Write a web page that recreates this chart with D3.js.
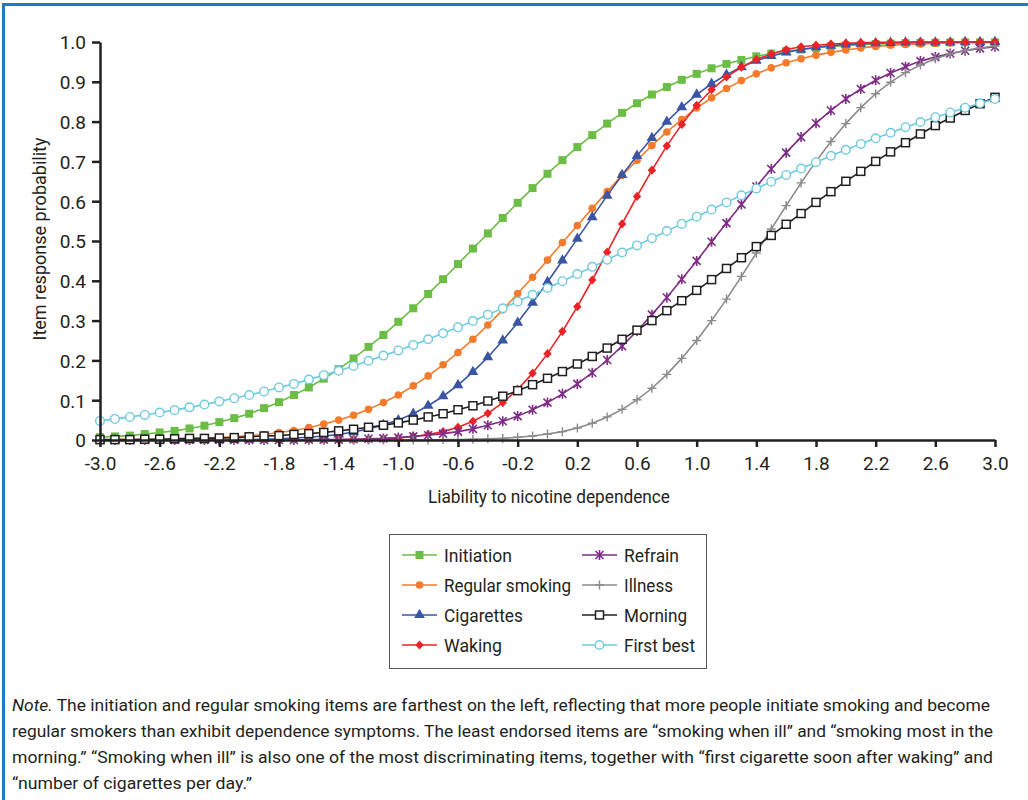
<!DOCTYPE html>
<html><head><meta charset="utf-8">
<script src="https://cdn.jsdelivr.net/npm/d3@7"></script>
<style>
body{margin:0;background:#fff;}
svg text{font-family:Roboto,"Liberation Sans",sans-serif;fill:#231F20;}
</style></head><body>
<svg id="c" width="1028" height="800"></svg>
<script>
// ---- data ----
const thetas=[-3.0,-2.9,-2.8,-2.7,-2.6,-2.5,-2.4,-2.3,-2.2,-2.1,
-2.0,-1.9,-1.8,-1.7,-1.6,-1.5,-1.4,-1.3,-1.2,-1.1,
-1.0,-0.9,-0.8,-0.7,-0.6,-0.5,-0.4,-0.3,-0.2,-0.1,
0.0,0.1,0.2,0.3,0.4,0.5,0.6,0.7,0.8,0.9,
1.0,1.1,1.2,1.3,1.4,1.5,1.6,1.7,1.8,1.9,
2.0,2.1,2.2,2.3,2.4,2.5,2.6,2.7,2.8,2.9,3.0];

const initiation=[0.007,0.009,0.011,0.015,0.019,0.023,0.029,0.036,0.045,0.055,
0.066,0.080,0.095,0.113,0.132,0.154,0.178,0.205,0.234,0.264,
0.297,0.331,0.367,0.404,0.442,0.481,0.519,0.558,0.596,0.633,
0.669,0.703,0.736,0.766,0.795,0.822,0.846,0.868,0.887,0.905,
0.920,0.934,0.945,0.955,0.964,0.971,0.977,0.981,0.985,0.989,
0.991,0.993,0.995,0.996,0.997,0.998,0.998,0.999,0.999,0.999,0.999];

const regularSmoking=[0.000,0.001,0.001,0.001,0.002,0.002,0.003,0.004,0.006,0.008,
0.011,0.014,0.019,0.024,0.031,0.040,0.050,0.062,0.077,0.094,
0.113,0.136,0.161,0.189,0.220,0.253,0.289,0.327,0.368,0.409,
0.452,0.496,0.539,0.582,0.624,0.665,0.703,0.740,0.774,0.805,
0.834,0.860,0.883,0.903,0.920,0.935,0.948,0.958,0.967,0.974,
0.980,0.985,0.989,0.992,0.994,0.995,0.997,0.998,0.998,0.999,0.999];

const cigarettes=[0.000,0.000,0.000,0.000,0.000,0.000,0.000,0.000,0.000,0.001,
0.001,0.002,0.003,0.005,0.007,0.010,0.014,0.020,0.028,0.038,
0.050,0.066,0.086,0.110,0.138,0.171,0.208,0.250,0.295,0.345,
0.397,0.451,0.506,0.560,0.614,0.666,0.714,0.759,0.800,0.836,
0.868,0.895,0.918,0.937,0.953,0.965,0.974,0.981,0.987,0.991,
0.994,0.996,0.997,0.998,0.999,0.999,0.999,0.999,1.000,1.000,1.000];

const waking=[0.000,0.000,0.000,0.000,0.000,0.000,0.000,0.000,0.000,0.000,
0.000,0.000,0.000,0.000,0.000,0.000,0.001,0.001,0.002,0.003,
0.005,0.009,0.014,0.021,0.032,0.047,0.067,0.094,0.127,0.168,
0.217,0.273,0.335,0.402,0.472,0.543,0.612,0.678,0.739,0.793,
0.841,0.880,0.912,0.937,0.956,0.970,0.981,0.988,0.992,0.995,
0.997,0.998,0.999,0.999,1.000,1.000,1.000,1.000,1.000,1.000,1.000];

const refrain=[0.000,0.000,0.000,0.000,0.000,0.000,0.000,0.000,0.000,0.000,
0.000,0.000,0.000,0.000,0.001,0.001,0.001,0.002,0.003,0.004,
0.006,0.009,0.012,0.016,0.021,0.028,0.037,0.047,0.060,0.076,
0.094,0.116,0.141,0.169,0.201,0.236,0.274,0.315,0.358,0.404,
0.450,0.498,0.545,0.592,0.637,0.681,0.722,0.761,0.796,0.828,
0.857,0.882,0.904,0.922,0.938,0.952,0.962,0.971,0.978,0.984,0.988];

const illness=[0.000,0.000,0.000,0.000,0.000,0.000,0.000,0.000,0.000,0.000,
0.000,0.000,0.000,0.000,0.000,0.000,0.000,0.000,0.000,0.000,
0.000,0.000,0.000,0.001,0.001,0.002,0.003,0.004,0.007,0.010,
0.015,0.021,0.030,0.042,0.058,0.077,0.101,0.130,0.165,0.205,
0.250,0.300,0.354,0.411,0.470,0.530,0.589,0.646,0.700,0.750,
0.795,0.835,0.870,0.899,0.923,0.942,0.958,0.970,0.979,0.985,0.990];

const morning=[0.001,0.001,0.001,0.002,0.002,0.003,0.004,0.004,0.005,0.006,
0.008,0.010,0.011,0.014,0.016,0.019,0.023,0.027,0.032,0.037,
0.043,0.050,0.058,0.066,0.076,0.086,0.098,0.110,0.124,0.139,
0.155,0.172,0.191,0.210,0.231,0.253,0.276,0.300,0.325,0.350,
0.376,0.403,0.431,0.458,0.486,0.514,0.542,0.569,0.597,0.624,
0.650,0.675,0.700,0.724,0.747,0.769,0.790,0.809,0.828,0.845,0.861];

const firstBest=[0.048,0.053,0.058,0.063,0.069,0.075,0.082,0.089,0.097,0.105,
0.113,0.122,0.132,0.141,0.152,0.163,0.174,0.186,0.199,0.212,
0.225,0.239,0.253,0.268,0.283,0.299,0.315,0.331,0.348,0.365,
0.382,0.399,0.417,0.435,0.453,0.471,0.489,0.507,0.525,0.543,
0.561,0.579,0.597,0.615,0.632,0.649,0.666,0.682,0.698,0.714,
0.729,0.744,0.758,0.772,0.786,0.799,0.811,0.823,0.835,0.846,0.857];

const seriesNames=["Initiation","Regular smoking","Cigarettes","Waking","Refrain","Illness","Morning","First best"];
const seriesValues=[initiation,regularSmoking,cigarettes,waking,refrain,illness,morning,firstBest];
const xTickValues=[-3.0,-2.6,-2.2,-1.8,-1.4,-1.0,-0.6,-0.2,0.2,0.6,1.0,1.4,1.8,2.2,2.6,3.0];
const yTickValues=[0,0.1,0.2,0.3,0.4,0.5,0.6,0.7,0.8,0.9,1.0];
const xTitle="Liability to nicotine dependence";
const yTitle="Item response probability";
const noteLines=[
 [["Note.",true],[" The initiation and regular smoking items are farthest on the left, reflecting that more people initiate smoking and become",false]],
 [["regular smokers than exhibit dependence symptoms. The least endorsed items are \u201csmoking when ill\u201d and \u201csmoking most in the",false]],
 [["morning.\u201d \u201cSmoking when ill\u201d is also one of the most discriminating items, together with \u201cfirst cigarette soon after waking\u201d and",false]],
 [["\u201cnumber of cigarettes per day.\u201d",false]]
];

// ---- styles ----
const colors=["#6BBD45","#F47B2C","#3A55A4","#EC2227","#7E2C86","#8B8B8B","#231F20","#6ECBDF"];
const markers=["square","circle","triangle","diamond","asterisk","plus","opensquare","opencircle"];
const legendWidths=[68,127,79,58,55,49,63,71];

const svg=d3.select("#c");
// frame
svg.append("rect").attr("x",2).attr("y",3).attr("width",1026).attr("height",3).attr("fill","#1B7BC4");
svg.append("rect").attr("x",2).attr("y",3).attr("width",3).attr("height",797).attr("fill","#1B7BC4");

const x=d3.scaleLinear().domain([-3,3]).range([100,995]);
const y=d3.scaleLinear().domain([0,1]).range([440,42]);

function drawMarker(g,type,color,cx,cy){
  if(type==="square") g.append("rect").attr("x",cx-4).attr("y",cy-4).attr("width",8).attr("height",8).attr("fill",color);
  else if(type==="circle") g.append("circle").attr("cx",cx).attr("cy",cy).attr("r",3.8).attr("fill",color);
  else if(type==="triangle") g.append("path").attr("d",d3.symbol(d3.symbolTriangle,50)()).attr("transform",`translate(${cx},${cy})`).attr("fill",color);
  else if(type==="diamond") g.append("path").attr("d","M0,-4.6L4.2,0L0,4.6L-4.2,0Z").attr("transform",`translate(${cx},${cy})`).attr("fill",color);
  else if(type==="asterisk") g.append("path").attr("d","M-4,-4L4,4M-4,4L4,-4M0,-5L0,5").attr("transform",`translate(${cx},${cy})`).attr("stroke",color).attr("stroke-width",1.6).attr("fill","none");
  else if(type==="plus") g.append("path").attr("d","M-4.5,0L4.5,0M0,-4.5L0,4.5").attr("transform",`translate(${cx},${cy})`).attr("stroke",color).attr("stroke-width",1.4).attr("fill","none");
  else if(type==="opensquare") g.append("rect").attr("x",cx-4).attr("y",cy-4).attr("width",8).attr("height",8).attr("fill","#fff").attr("stroke",color).attr("stroke-width",1.5);
  else if(type==="opencircle") g.append("circle").attr("cx",cx).attr("cy",cy).attr("r",4.3).attr("fill","#fff").attr("stroke",color).attr("stroke-width",1.4);
}

// series
const line=d3.line().x((d,i)=>x(thetas[i])).y(d=>y(d));
seriesValues.forEach((vals,si)=>{
  const g=svg.append("g");
  g.append("path").datum(vals).attr("d",line).attr("fill","none").attr("stroke",colors[si]).attr("stroke-width",1.6);
  vals.forEach((v,i)=>drawMarker(g,markers[si],colors[si],x(thetas[i]),y(v)));
});

// axes
const yAxis=svg.append("g").attr("transform","translate(100,0)")
  .call(d3.axisLeft(y).tickValues(yTickValues).tickSize(8).tickSizeOuter(0).tickPadding(6).tickFormat(d=>d===0?"0":d.toFixed(1)));
const xAxis=svg.append("g").attr("transform","translate(0,440)")
  .call(d3.axisBottom(x).tickValues(xTickValues).tickSize(7).tickSizeOuter(0).tickPadding(6).tickFormat(d=>d.toFixed(1)));
[yAxis,xAxis].forEach(a=>{
  a.select(".domain").attr("stroke","#231F20").attr("stroke-width",2.5);
  a.selectAll(".tick line").attr("stroke","#231F20").attr("stroke-width",2.5);
  a.selectAll(".tick text").style("font-size","19px").style("font-family","Roboto,sans-serif").attr("fill","#333");
});
yAxis.selectAll(".tick text").attr("dy","0.36em");
xAxis.selectAll(".tick text").attr("dy","0.9em");

svg.append("text").attr("x",549).attr("y",503).attr("text-anchor","middle").style("font-size","18px").attr("fill","#333")
  .attr("textLength",242).attr("lengthAdjust","spacingAndGlyphs").text(xTitle);
svg.append("text").attr("transform","translate(46,239) rotate(-90)").attr("text-anchor","middle").style("font-size","18px").attr("fill","#333")
  .attr("textLength",203).attr("lengthAdjust","spacingAndGlyphs").text(yTitle);

// legend
const lg=svg.append("g");
lg.append("rect").attr("x",389.5).attr("y",534.5).attr("width",317).attr("height",134).attr("fill","#fff").attr("stroke","#555").attr("stroke-width",1);
seriesNames.forEach((n,i)=>{
  const col=Math.floor(i/4), row=i%4;
  const x0=col===0?402:582, cy=555+row*30;
  lg.append("line").attr("x1",x0).attr("x2",x0+35).attr("y1",cy).attr("y2",cy).attr("stroke",colors[i]).attr("stroke-width",1.6);
  drawMarker(lg,markers[i],colors[i],x0+17.5,cy);
  lg.append("text").attr("x",x0+42).attr("y",cy).attr("dy","0.36em").style("font-size","19px").attr("fill","#333")
    .attr("textLength",legendWidths[i]).attr("lengthAdjust","spacingAndGlyphs").text(n);
});

// note
const noteWidths=[978,981,981,240];
noteLines.forEach((parts,li)=>{
  const t=svg.append("text").attr("x",12).attr("y",711+li*26).style("font-size","17px").attr("fill","#333");
  parts.forEach(([s,it])=>t.append("tspan").style("font-style",it?"italic":"normal").text(s));
  t.attr("textLength",noteWidths[li]).attr("lengthAdjust","spacingAndGlyphs");
});
</script>
</body></html>
